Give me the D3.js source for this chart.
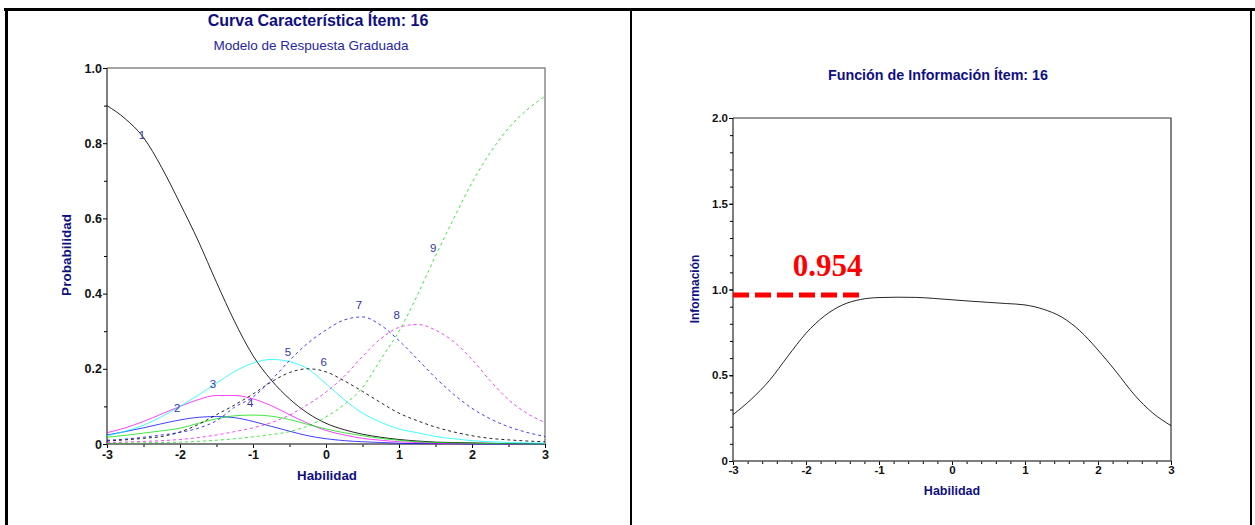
<!DOCTYPE html>
<html>
<head>
<meta charset="utf-8">
<script src="https://cdn.jsdelivr.net/npm/d3@7"></script>
<style>
	body { margin: 0; background: #fff; }
	svg { display: block; font-family: "Liberation Sans", Arial, sans-serif; }
</style>
</head>
<body>
<div id="chart"></div>
<script>
// ability grid (theta), shared by every curve
const theta = [-3, -2.75, -2.5, -2.25, -2, -1.75, -1.5, -1.25, -1, -0.75, -0.5, -0.25, 0,
	0.25, 0.5, 0.75, 1, 1.25, 1.5, 1.75, 2, 2.25, 2.5, 2.75, 3];

// category response curves
const cat1 = [0.90, 0.865, 0.815, 0.735, 0.64, 0.54, 0.43, 0.325, 0.235, 0.17, 0.12, 0.082, 0.055,
	0.038, 0.026, 0.018, 0.012, 0.008, 0.005, 0.004, 0.003, 0.002, 0.001, 0.001, 0.001];
const cat2 = [0.024, 0.033, 0.043, 0.054, 0.064, 0.071, 0.073, 0.07, 0.06, 0.047, 0.034, 0.022, 0.014,
	0.009, 0.006, 0.004, 0.002, 0.001, 0.001, 0.001, 0, 0, 0, 0, 0];
const cat3 = [0.03, 0.043, 0.06, 0.08, 0.1, 0.118, 0.129, 0.129, 0.12, 0.102, 0.078, 0.055, 0.036,
	0.024, 0.015, 0.01, 0.006, 0.004, 0.002, 0.001, 0.001, 0.001, 0, 0, 0];
const cat4 = [0.018, 0.023, 0.029, 0.035, 0.042, 0.055, 0.067, 0.075, 0.077, 0.074, 0.065, 0.052, 0.04,
	0.03, 0.022, 0.015, 0.01, 0.006, 0.004, 0.003, 0.002, 0.001, 0.001, 0, 0];
const cat5 = [0.022, 0.034, 0.05, 0.073, 0.1, 0.13, 0.162, 0.193, 0.215, 0.225, 0.219, 0.2, 0.16,
	0.118, 0.082, 0.058, 0.04, 0.03, 0.02, 0.014, 0.009, 0.006, 0.004, 0.003, 0.002];
const cat6 = [0.008, 0.011, 0.015, 0.02, 0.032, 0.052, 0.078, 0.104, 0.133, 0.165, 0.19, 0.2, 0.192,
	0.168, 0.14, 0.11, 0.082, 0.062, 0.045, 0.032, 0.022, 0.015, 0.011, 0.008, 0.006];
const cat7 = [0.01, 0.013, 0.018, 0.024, 0.031, 0.042, 0.062, 0.098, 0.125, 0.17, 0.222, 0.268, 0.303,
	0.33, 0.338, 0.316, 0.275, 0.226, 0.176, 0.132, 0.095, 0.067, 0.046, 0.031, 0.02];
const cat8 = [0.004, 0.005, 0.007, 0.009, 0.012, 0.017, 0.024, 0.033, 0.043, 0.057, 0.077, 0.105, 0.138,
	0.18, 0.233, 0.28, 0.31, 0.318, 0.303, 0.272, 0.225, 0.168, 0.118, 0.082, 0.057];
const cat9 = [0.001, 0.002, 0.003, 0.004, 0.005, 0.007, 0.01, 0.014, 0.019, 0.025, 0.033, 0.048, 0.072,
	0.105, 0.15, 0.225, 0.3, 0.395, 0.5, 0.6, 0.695, 0.775, 0.84, 0.888, 0.925];

// where the category numbers sit (theta, probability)
const catLabelX = [-2.52, -2.04, -1.55, -1.04, -0.52, -0.03, 0.45, 0.97, 1.47];
const catLabelY = [0.822, 0.096, 0.16, 0.109, 0.245, 0.218, 0.37, 0.343, 0.521];

// item information function
const info = [0.27, 0.36, 0.47, 0.61, 0.745, 0.845, 0.91, 0.942, 0.953, 0.955, 0.954, 0.948, 0.94,
	0.932, 0.925, 0.918, 0.91, 0.885, 0.84, 0.76, 0.647, 0.52, 0.385, 0.28, 0.206];
const infoMax = "0.954";
const infoLineLevel = 0.968;

const xTicks = [-3, -2, -1, 0, 1, 2, 3];
const probTicks = [0, 0.2, 0.4, 0.6, 0.8, 1.0];
const infoTicks = [0, 0.5, 1.0, 1.5, 2.0];

const W = 1255, H = 525;
const navy = "#0f0f82";

const svg = d3.select("#chart").append("svg")
	.attr("width", W)
	.attr("height", H);

// panel borders
svg.append("line").attr("x1", 4).attr("x2", W).attr("y1", 9.5).attr("y2", 9.5)
	.attr("stroke", "#000").attr("stroke-width", 3);
svg.append("line").attr("x1", 6.5).attr("x2", 6.5).attr("y1", 8).attr("y2", H)
	.attr("stroke", "#000").attr("stroke-width", 3);
svg.append("line").attr("x1", 631).attr("x2", 631).attr("y1", 8).attr("y2", H)
	.attr("stroke", "#000").attr("stroke-width", 2);
svg.append("line").attr("x1", 1251).attr("x2", 1251).attr("y1", 8).attr("y2", H)
	.attr("stroke", "#000").attr("stroke-width", 2);

function fmt(d) {
	return d === 0 ? "0" : d.toFixed(1);
}

function styleTicks(g) {
	g.select(".domain").remove();
	g.selectAll("text")
		.attr("fill", "#111")
		.style("font-weight", "bold");
}

/* ---------------- left panel: category curves ---------------- */
let xL = d3.scaleLinear().domain([-3, 3]).range([107, 545]);
let yL = d3.scaleLinear().domain([0, 1]).range([444, 68]);

let left = svg.append("g");

left.append("text")
	.attr("x", 318).attr("y", 26)
	.attr("text-anchor", "middle")
	.attr("fill", navy)
	.style("font-size", "16px").style("font-weight", "bold")
	.text("Curva Característica Ítem: 16");

left.append("text")
	.attr("x", 311).attr("y", 50)
	.attr("text-anchor", "middle")
	.attr("fill", "#2626a6")
	.style("font-size", "13.5px")
	.text("Modelo de Respuesta Graduada");

// frame (top + right)
left.append("path")
	.attr("d", `M${xL(-3)},${yL(1)}H${xL(3)}V${yL(0)}`)
	.attr("fill", "none").attr("stroke", "#888").attr("stroke-width", 1.5);

// minor ticks
left.append("g")
	.attr("transform", `translate(${xL(-3)},0)`)
	.call(d3.axisLeft(yL).tickValues(d3.range(0.1, 1, 0.2)).tickSize(3).tickFormat(""))
	.call(styleTicks);
left.append("g")
	.attr("transform", `translate(0,${yL(0)})`)
	.call(d3.axisBottom(xL).tickValues(d3.range(-2.5, 3, 1)).tickSize(3).tickFormat(""))
	.call(styleTicks);

left.append("g")
	.attr("transform", `translate(${xL(-3)},0)`)
	.call(d3.axisLeft(yL).tickValues(probTicks).tickSize(4).tickPadding(1).tickFormat(fmt))
	.call(styleTicks)
	.selectAll("text").style("font-size", "12.5px");

left.append("g")
	.attr("transform", `translate(0,${yL(0)})`)
	.call(d3.axisBottom(xL).tickValues(xTicks).tickSize(4).tickPadding(2).tickFormat(d => String(d)))
	.call(styleTicks)
	.selectAll("text").style("font-size", "12.5px");

left.append("line")
	.attr("x1", xL(-3)).attr("x2", xL(-3)).attr("y1", yL(1)).attr("y2", yL(0))
	.attr("stroke", "#000");
left.append("line")
	.attr("x1", xL(-3)).attr("x2", xL(3)).attr("y1", yL(0)).attr("y2", yL(0))
	.attr("stroke", "#555").attr("stroke-width", 1.5);

left.append("text")
	.attr("transform", `translate(71,255) rotate(-90)`)
	.attr("text-anchor", "middle")
	.attr("fill", navy)
	.style("font-size", "13.5px").style("font-weight", "bold")
	.text("Probabilidad");

left.append("text")
	.attr("x", 327).attr("y", 480)
	.attr("text-anchor", "middle")
	.attr("fill", navy)
	.style("font-size", "13.3px").style("font-weight", "bold")
	.text("Habilidad");

const categories = [cat1, cat2, cat3, cat4, cat5, cat6, cat7, cat8, cat9];
const catColors = ["#000", "#0000ff", "#ff00ff", "#00e000", "#00ffff", "#000", "#0000ff", "#ff00ff", "#00e000"];
const catDashed = [false, false, false, false, false, true, true, true, true];

let lineL = d3.line()
	.x((d, i) => xL(theta[i]))
	.y(d => yL(d))
	.curve(d3.curveMonotoneX);

left.append("g")
	.selectAll("path")
	.data(categories)
	.join("path")
	.attr("d", lineL)
	.attr("fill", "none")
	.attr("stroke", (d, i) => catColors[i])
	.attr("stroke-opacity", (d, i) => catColors[i] === "#000" ? 0.85 : 0.75)
	.attr("stroke-width", 1)
	.attr("stroke-dasharray", (d, i) => catDashed[i] ? "3,3" : null);

left.append("g")
	.selectAll("text")
	.data(catLabelX)
	.join("text")
	.attr("x", d => xL(d))
	.attr("y", (d, i) => yL(catLabelY[i]))
	.attr("dy", "0.35em")
	.attr("text-anchor", "middle")
	.attr("fill", "#3535b0")
	.style("font-size", "11.5px")
	.text((d, i) => i + 1);

/* ---------------- right panel: information ---------------- */
let xR = d3.scaleLinear().domain([-3, 3]).range([733, 1171]);
let yR = d3.scaleLinear().domain([0, 2]).range([461, 118]);

let right = svg.append("g");

right.append("text")
	.attr("x", 938).attr("y", 80)
	.attr("text-anchor", "middle")
	.attr("fill", navy)
	.style("font-size", "14.3px").style("font-weight", "bold")
	.text("Función de Información Ítem: 16");

right.append("path")
	.attr("d", `M${xR(-3)},${yR(2)}H${xR(3)}V${yR(0)}`)
	.attr("fill", "none").attr("stroke", "#333").attr("stroke-width", 1.2);

right.append("g")
	.attr("transform", `translate(${xR(-3)},0)`)
	.call(d3.axisLeft(yR).tickValues(d3.range(0.1, 2, 0.1)).tickSize(3).tickFormat(""))
	.call(styleTicks);
right.append("g")
	.attr("transform", `translate(0,${yR(0)})`)
	.call(d3.axisBottom(xR).tickValues(d3.range(-2.8, 3, 0.2)).tickSize(3).tickFormat(""))
	.call(styleTicks);

right.append("g")
	.attr("transform", `translate(${xR(-3)},0)`)
	.call(d3.axisLeft(yR).tickValues(infoTicks).tickSize(4).tickPadding(1).tickFormat(fmt))
	.call(styleTicks)
	.selectAll("text").style("font-size", "11.5px");

right.append("g")
	.attr("transform", `translate(0,${yR(0)})`)
	.call(d3.axisBottom(xR).tickValues(xTicks).tickSize(4).tickPadding(1).tickFormat(d => String(d)))
	.call(styleTicks)
	.selectAll("text").style("font-size", "11.5px");

right.append("line")
	.attr("x1", xR(-3)).attr("x2", xR(-3)).attr("y1", yR(2)).attr("y2", yR(0))
	.attr("stroke", "#000");
right.append("line")
	.attr("x1", xR(-3)).attr("x2", xR(3)).attr("y1", yR(0)).attr("y2", yR(0))
	.attr("stroke", "#555").attr("stroke-width", 1.5);

right.append("text")
	.attr("transform", `translate(699,289) rotate(-90)`)
	.attr("text-anchor", "middle")
	.attr("fill", navy)
	.style("font-size", "12px").style("font-weight", "bold")
	.text("Información");

right.append("text")
	.attr("x", 952).attr("y", 495)
	.attr("text-anchor", "middle")
	.attr("fill", navy)
	.style("font-size", "12.5px").style("font-weight", "bold")
	.text("Habilidad");

let lineR = d3.line()
	.x((d, i) => xR(theta[i]))
	.y(d => yR(d))
	.curve(d3.curveMonotoneX);

right.append("path")
	.datum(info)
	.attr("d", lineR)
	.attr("fill", "none")
	.attr("stroke", "#000")
	.attr("stroke-opacity", 0.85)
	.attr("stroke-width", 1);

// max information marker
right.append("line")
	.attr("x1", xR(-3)).attr("x2", xR(-1.25))
	.attr("y1", yR(infoLineLevel)).attr("y2", yR(infoLineLevel))
	.attr("stroke", "#ff0000")
	.attr("stroke-width", 5)
	.attr("stroke-dasharray", "16,6");

right.append("text")
	.attr("x", xR(-2.18)).attr("y", 276)
	.attr("fill", "#ff0000")
	.style("font-family", "'Liberation Serif', 'Times New Roman', serif")
	.style("font-size", "31px").style("font-weight", "bold")
	.text(infoMax);
</script>
</body>
</html>
